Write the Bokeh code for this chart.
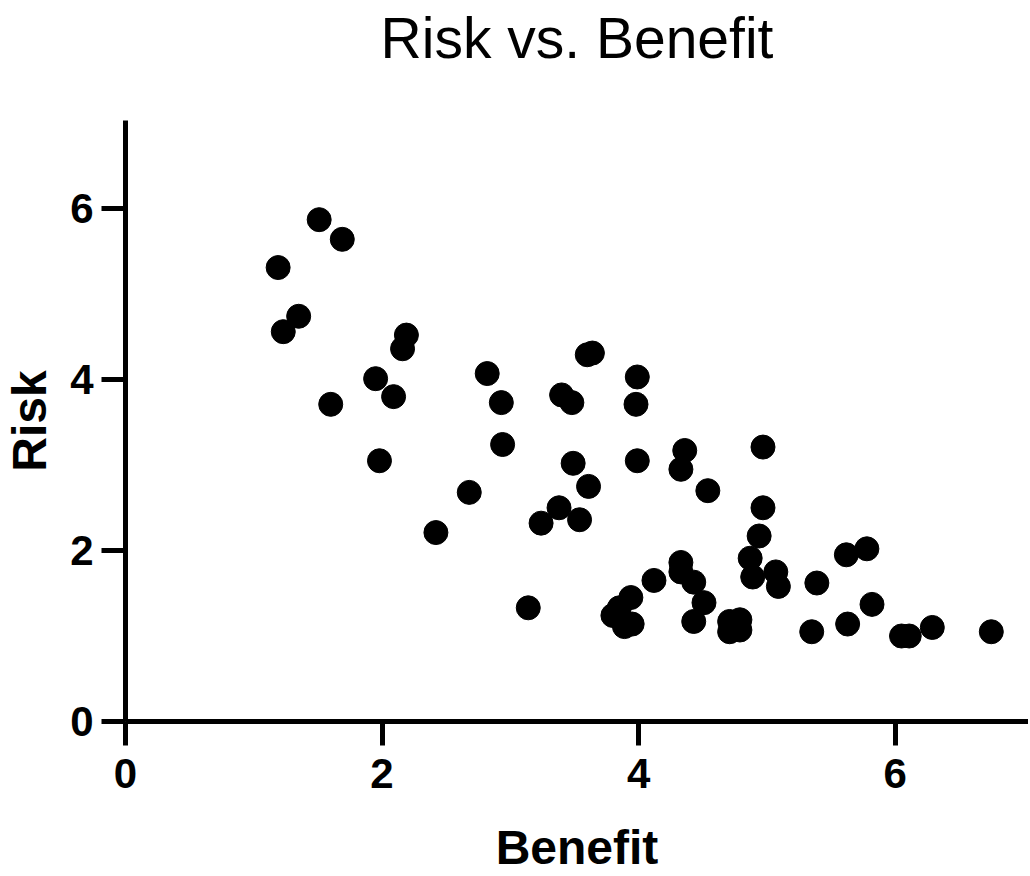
from bokeh.plotting import figure
from bokeh.models import ColumnDataSource, Range1d, FixedTicker, LinearAxis
from bokeh.embed import file_html
from bokeh.resources import INLINE

benefit = [1.19, 1.51, 1.69, 1.23, 1.35, 1.60, 1.95, 1.98, 2.09, 2.19, 2.16,
           2.42, 2.68, 2.82, 2.93, 2.94, 3.14, 3.24, 3.38, 3.40, 3.48, 3.49,
           3.54, 3.61, 3.60, 3.64, 3.99, 3.98, 3.99, 3.80, 3.85, 3.94, 3.89,
           3.95, 4.12, 4.33, 4.36, 4.33, 4.33, 4.43, 4.43, 4.54, 4.51, 4.71,
           4.79, 4.71, 4.79, 4.87, 4.89, 4.94, 4.97, 4.97, 5.07, 5.09, 5.35,
           5.39, 5.62, 5.63, 5.78, 5.82, 6.05, 6.11, 6.29, 6.75]
risk = [5.31, 5.87, 5.64, 4.56, 4.74, 3.71, 4.01, 3.05, 3.80, 4.52, 4.36,
        2.21, 2.68, 4.07, 3.73, 3.24, 1.33, 2.32, 2.50, 3.82, 3.73, 3.02,
        2.36, 2.75, 4.29, 4.31, 4.03, 3.71, 3.05, 1.24, 1.33, 1.45, 1.11,
        1.14, 1.65, 2.95, 3.17, 1.86, 1.75, 1.63, 1.17, 2.70, 1.39, 1.17,
        1.19, 1.05, 1.07, 1.91, 1.69, 2.17, 2.50, 3.21, 1.75, 1.58, 1.05,
        1.62, 1.95, 1.14, 2.02, 1.37, 1.00, 1.00, 1.10, 1.05]
x_ticks = [0, 2, 4, 6]
y_ticks = [0, 2, 4, 6]
title_text = "Risk vs. Benefit"
x_label = "Benefit"
y_label = "Risk"

src = ColumnDataSource(dict(benefit=benefit, risk=risk))

p = figure(width=1028, height=876, output_backend="svg", toolbar_location=None,
           x_range=Range1d(0, 7.04), y_range=Range1d(0, 7.03),
           min_border_left=125, min_border_right=0, min_border_top=120,
           min_border_bottom=154, title=title_text)

p.scatter("benefit", "risk", source=src, size=24, marker="circle",
          fill_color="black", line_color="black")

p.title.text_font = "Liberation Sans"
p.title.text_font_size = "57px"
p.title.text_font_style = "normal"
p.title.align = "center"
p.title.vertical_align = "top"
p.title.offset = -2
p.title.text_color = "black"
p.title.standoff = 0

p.grid.visible = False
p.outline_line_color = None
p.background_fill_color = "white"
p.border_fill_color = "white"

xax = p.below[0]
yax = p.left[0]
for ax, ticks in ((xax, x_ticks), (yax, y_ticks)):
    ax.ticker = FixedTicker(ticks=ticks)
    ax.axis_line_width = 5
    ax.axis_line_color = "black"
    ax.major_tick_line_width = 5
    ax.major_tick_line_color = "black"
    ax.major_tick_out = 24
    ax.major_tick_in = 0
    ax.minor_tick_line_color = None
    ax.major_label_text_font = "Liberation Sans"
    ax.major_label_text_font_style = "bold"
    ax.major_label_text_font_size = "42px"
    ax.major_label_text_color = "black"
    ax.axis_label_text_font = "Liberation Sans"
    ax.axis_label_text_font_style = "bold"
    ax.axis_label_text_font_size = "48px"
    ax.axis_label_text_color = "black"

xax.axis_label = x_label
yax.axis_label = y_label
xax.major_label_standoff = 13
xax.axis_label_standoff = 30
yax.major_label_standoff = 8
yax.axis_label_standoff = 11

# spacer between the title and the plot area: a white (invisible) tick on
# white background, no axis line and no drawn labels
spacer = LinearAxis(ticker=FixedTicker(ticks=[3.5]), axis_line_color=None,
                    major_tick_line_color="white", minor_tick_line_color=None,
                    major_tick_out=49, major_tick_in=0, major_label_standoff=0,
                    major_label_text_color=None, major_label_text_font_size="1px")
p.add_layout(spacer, "above")

open("out.html", "w").write(file_html(p, INLINE))
